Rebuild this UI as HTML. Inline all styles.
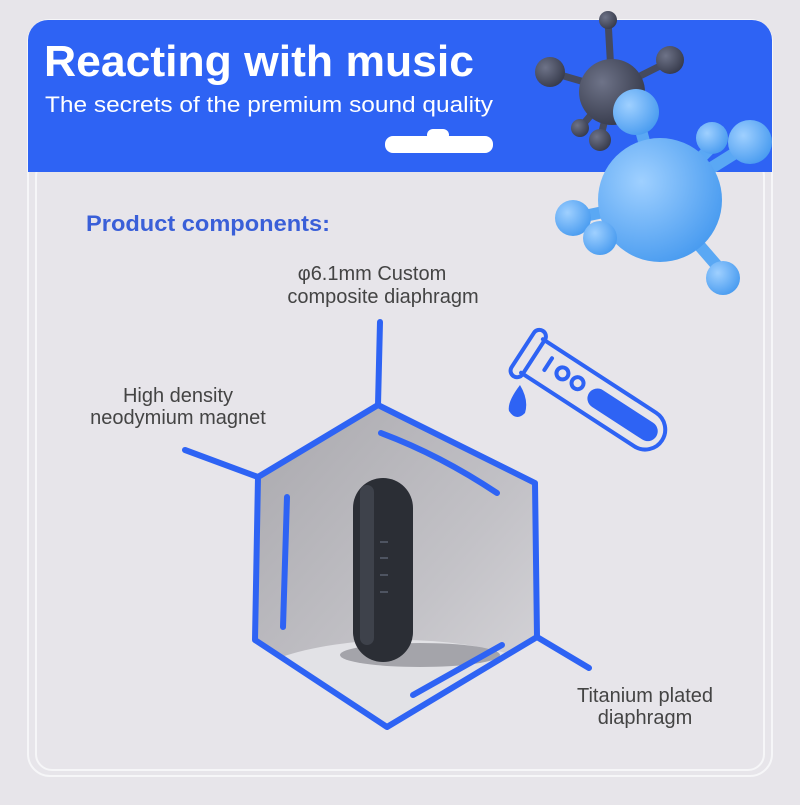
<!DOCTYPE html>
<html><head><style>
body{margin:0;width:800px;height:800px;background:#e7e5ea;overflow:hidden;font-family:"Liberation Sans",sans-serif;}
</style></head><body>
<svg width="800" height="800" viewBox="0 0 800 800" xmlns="http://www.w3.org/2000/svg">
<defs>
<clipPath id="hx"><polygon points="378,405 535,483 537,637 387,727 255,640 258,477"/></clipPath>
<linearGradient id="bg" x1="0" y1="0" x2="1" y2="1"><stop offset="0" stop-color="#a9a8ad"/><stop offset="0.6" stop-color="#c3c2c7"/><stop offset="1" stop-color="#d9d8dc"/></linearGradient>
<radialGradient id="mb" cx="0.35" cy="0.35" r="0.7"><stop offset="0" stop-color="#9fd0ff"/><stop offset="1" stop-color="#4a9cf0"/></radialGradient>
<radialGradient id="mg" cx="0.35" cy="0.35" r="0.7"><stop offset="0" stop-color="#6e7388"/><stop offset="1" stop-color="#373b4c"/></radialGradient>
</defs>
<rect x="28" y="20" width="744" height="756" rx="22" fill="none" stroke="#f6f6f8" stroke-width="2"/>
<rect x="36" y="160" width="728" height="610" rx="16" fill="none" stroke="#f6f6f8" stroke-width="2"/>
<path d="M28,172 V40 a20,20 0 0 1 20,-20 H752 a20,20 0 0 1 20,20 V172 Z" fill="#2e63f4"/>
<text x="44" y="76" font-size="44" font-weight="bold" fill="#fff" textLength="430" lengthAdjust="spacingAndGlyphs">Reacting with music</text>
<text x="45" y="112" font-size="22" fill="#fff" textLength="448" lengthAdjust="spacingAndGlyphs">The secrets of the premium sound quality</text>
<rect x="385" y="136" width="108" height="17" rx="8" fill="#fff"/>
<rect x="427" y="129" width="22" height="12" rx="6" fill="#fff"/>
<text x="86" y="231" font-size="22" font-weight="bold" fill="#3a5fd8" textLength="244" lengthAdjust="spacingAndGlyphs">Product components:</text>
<!-- molecules -->
<g stroke="#454a5e" stroke-width="7" stroke-linecap="round">
<line x1="612" y1="90" x2="608" y2="20"/><line x1="612" y1="90" x2="550" y2="72"/><line x1="612" y1="90" x2="668" y2="62"/><line x1="612" y1="90" x2="580" y2="128"/><line x1="612" y1="90" x2="600" y2="140"/></g>
<circle cx="612" cy="92" r="33" fill="url(#mg)"/>
<circle cx="608" cy="20" r="9" fill="url(#mg)"/><circle cx="550" cy="72" r="15" fill="url(#mg)"/><circle cx="670" cy="60" r="14" fill="url(#mg)"/><circle cx="580" cy="128" r="9" fill="url(#mg)"/><circle cx="600" cy="140" r="11" fill="url(#mg)"/>
<g stroke="#5aa8f4" stroke-width="12" stroke-linecap="round">
<line x1="660" y1="200" x2="636" y2="112"/><line x1="660" y1="200" x2="740" y2="150"/><line x1="660" y1="200" x2="718" y2="140"/><line x1="660" y1="200" x2="575" y2="218"/><line x1="660" y1="200" x2="600" y2="238"/><line x1="660" y1="200" x2="725" y2="275"/></g>
<circle cx="660" cy="200" r="62" fill="url(#mb)"/>
<circle cx="636" cy="112" r="23" fill="url(#mb)"/><circle cx="750" cy="142" r="22" fill="url(#mb)"/><circle cx="712" cy="138" r="16" fill="url(#mb)"/><circle cx="573" cy="218" r="18" fill="url(#mb)"/><circle cx="600" cy="238" r="17" fill="url(#mb)"/><circle cx="723" cy="278" r="17" fill="url(#mb)"/>
<!-- labels -->
<g font-size="20" fill="#444" text-anchor="middle">
<text x="372" y="280">φ6.1mm Custom</text><text x="383" y="303">composite diaphragm</text>
<text x="178" y="402">High density</text><text x="178" y="424">neodymium magnet</text>
<text x="645" y="702">Titanium plated</text><text x="645" y="724">diaphragm</text>
</g>
<!-- hexagon image -->
<g clip-path="url(#hx)">
<rect x="250" y="400" width="290" height="330" fill="url(#bg)"/>
<ellipse cx="400" cy="700" rx="170" ry="60" fill="#e2e2e6"/>
<ellipse cx="420" cy="655" rx="80" ry="12" fill="#7c7c82" opacity="0.6"/>
<rect x="353" y="478" width="60" height="184" rx="30" fill="#2b2e35"/>
<rect x="360" y="485" width="14" height="160" rx="7" fill="#3e424b"/>
<g stroke="#5a6070" stroke-width="1.5"><line x1="380" y1="542" x2="388" y2="542"/><line x1="380" y1="558" x2="388" y2="558"/><line x1="380" y1="575" x2="388" y2="575"/><line x1="380" y1="592" x2="388" y2="592"/></g>
</g>
<g stroke="#2e63f4" stroke-width="6" stroke-linecap="round" stroke-linejoin="round" fill="none">
<polygon points="378,405 535,483 537,637 387,727 255,640 258,477"/>
<line x1="378" y1="405" x2="380" y2="322"/>
<line x1="258" y1="477" x2="185" y2="450"/>
<line x1="537" y1="637" x2="589" y2="668"/>
<path d="M381,433 Q440,455 497,493"/>
<line x1="287" y1="497" x2="283" y2="627"/>
<line x1="413" y1="695" x2="502" y2="645"/>
</g>
<!-- test tube -->
<g transform="translate(532,356) rotate(33)" stroke="#2e63f4" stroke-width="4" fill="none" stroke-linecap="round">
<path d="M0,-20 H135 A20,20 0 0 1 135,20 H0"/>
<rect x="-11" y="-27" width="13" height="54" rx="6.5"/>
<rect x="68" y="-10" width="80" height="20" rx="10" fill="#2e63f4" stroke="none"/>
<line x1="18" y1="-9" x2="18" y2="5"/>
<circle cx="35" cy="-2" r="6"/>
<circle cx="53" cy="-2" r="6"/>
</g>
<path d="M520,385 Q507,402 509,411 Q516,422 525,413 Q529,400 520,385Z" fill="#2e63f4"/>
</svg>
</body></html>
